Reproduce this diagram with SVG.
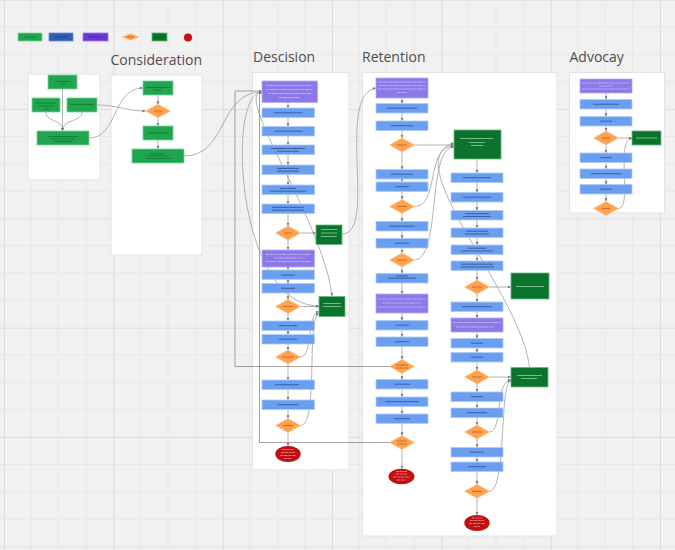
<svg xmlns="http://www.w3.org/2000/svg" width="675" height="550" viewBox="0 0 675 550">
<defs>
<pattern id="grid" patternUnits="userSpaceOnUse" x="4" y="-0.3" width="109.33" height="109.33">
<path d="M27.33 0V109.33M54.67 0V109.33M82 0V109.33M0 27.33H109.33M0 54.67H109.33M0 82H109.33" stroke="#e7e7e7" stroke-width="1" fill="none"/>
<path d="M0.5 0V109.33M0 0.5H109.33" stroke="#dcdcdc" stroke-width="1" fill="none"/>
</pattern>
<marker id="a" markerUnits="userSpaceOnUse" markerWidth="4" markerHeight="4" refX="3.2" refY="1.75" orient="auto">
<path d="M0,0.3 L3.2,1.75 L0,3.2 z" fill="#777"/>
</marker>
<style>
.panel{fill:#fff;stroke:#e3e3e3;stroke-width:1}
.title{font-family:"Open Sans","Noto Sans",sans-serif;font-size:14px;fill:#4d4d4d}
.g{fill:#1fa64f;stroke:#7dd39a;stroke-width:0.8}
.b{fill:#6a9ef0;stroke:#aecaf7;stroke-width:0.8}
.p{fill:#8b79e9;stroke:#b6aaf3;stroke-width:0.8}
.d{fill:#ffa24e;stroke:#ffc48f;stroke-width:0.6}
.k{fill:#0b732b;stroke:#6db685;stroke-width:0.8}
.r{fill:#c20f0f}
.tb{stroke:#3b5699;stroke-width:0.9;fill:none}
.tg{stroke:#147b38;stroke-width:0.9;fill:none}
.tw{stroke:#d9d2fb;stroke-width:0.6;stroke-dasharray:3 0.6 5 0.6 2 0.6;fill:none}
.tk{stroke:#7ec594;stroke-width:0.9;fill:none}
.td{stroke:#b8692a;stroke-width:0.9;fill:none}
.tr{stroke:#f0baba;stroke-width:0.6;stroke-dasharray:3 0.6 4 0.6;fill:none}
.c{fill:none;stroke:#a0a0a0;stroke-width:0.8;marker-end:url(#a)}
</style>
</defs>

<rect width="675" height="550" fill="#f1f1f1"/>
<rect width="675" height="550" fill="url(#grid)"/>

<g id="legend">
<rect class="g" x="18" y="33" width="24" height="8"/><path class="tg" d="M24 37H36"/>
<rect x="49" y="33" width="24" height="8" fill="#2f5cb5" stroke="#6f8fd0" stroke-width="0.8"/><path d="M55 37H67" stroke="#23468c" stroke-width="1"/>
<rect x="83" y="33" width="25" height="8" fill="#6a35d9" stroke="#9c7ae6" stroke-width="0.8"/><path d="M89 37H102" stroke="#4f26a8" stroke-width="1"/>
<polygon class="d" points="122,37 130.5,33.8 139,37 130.5,40.2"/><path class="td" d="M127 37H134"/>
<rect class="k" x="152" y="33" width="15" height="8"/><path d="M155 37H164" stroke="#075a21" stroke-width="1"/>
<circle class="r" cx="188" cy="37.5" r="4"/>
</g>

<g id="panels">
<rect class="panel" x="28" y="74" width="72" height="106"/>
<rect class="panel" x="111" y="75" width="91" height="180"/>
<rect class="panel" x="252.5" y="72.5" width="96.5" height="397.5"/>
<rect class="panel" x="362.5" y="72.5" width="194.5" height="463.5"/>
<rect class="panel" x="569.5" y="72.5" width="95" height="140.5"/>
<text class="title" x="110.5" y="65">Consideration</text>
<text class="title" x="253" y="61.7">Descision</text>
<text class="title" x="362" y="62">Retention</text>
<text class="title" x="569.5" y="62">Advocay</text>
</g>

<g id="connectors">
<path class="c" d="M62.5 89V131"/>
<path class="c" d="M46 112C46 123 62.5 118 62.5 131"/>
<path class="c" d="M82 112C82 123 62.5 118 62.5 131"/>
<path class="c" d="M89 138C118 138 112 88 143 88"/>
<path class="c" d="M97 105C118 105 125 111 145.5 111"/>
<path class="c" d="M158 95V104.5"/>
<path class="c" d="M158 117.5V126"/>
<path class="c" d="M158 140V149"/>
<path class="c" d="M184 156C228 156 218 92 262 92"/>
<path class="c" d="M288 102V108"/>
<path class="c" d="M288 117.5V126.5"/>
<path class="c" d="M288 136V145"/>
<path class="c" d="M288 154.5V165"/>
<path class="c" d="M288 174.5V185"/>
<path class="c" d="M288 194.5V204"/>
<path class="c" d="M288 213.5V226"/>
<path class="c" d="M288 240V250"/>
<path class="c" d="M288 267V270"/>
<path class="c" d="M288 279.5V283.5"/>
<path class="c" d="M288 293V299.5"/>
<path class="c" d="M288 313.5V321"/>
<path class="c" d="M288 330.5V334.5"/>
<path class="c" d="M288 344V350"/>
<path class="c" d="M288 364V380"/>
<path class="c" d="M288 389.5V400"/>
<path class="c" d="M288 409.5V418.5"/>
<path class="c" d="M288 432.5V446"/>
<path class="c" d="M300.5 233H316"/>
<path class="c" d="M300.5 306.5H319"/>
<path class="c" d="M300.5 357C313 357 307 312 319 312"/>
<path class="c" d="M300.5 425.5C319 425.5 306 315 319 314"/>
<path class="c" d="M262 92C226 92 236 306 319 306"/>
<path class="c" d="M262 92C232 92 325 225 332 296"/>
<path class="c" d="M389.5 366.5H235V91H262" style="stroke:#8c8c8c"/>
<path class="c" d="M389.5 442.5H259.5V93H262" style="stroke:#8c8c8c"/>
<path class="c" d="M342 234C378 234 335 95 376 88"/>
<path class="c" d="M402 98V103.5"/>
<path class="c" d="M402 113V121"/>
<path class="c" d="M402 130.5V138"/>
<path class="c" d="M402 152V169.5"/>
<path class="c" d="M402 179V182"/>
<path class="c" d="M402 191.5V199.5"/>
<path class="c" d="M402 213.5V221.5"/>
<path class="c" d="M402 231V238.5"/>
<path class="c" d="M402 248V253"/>
<path class="c" d="M402 267V273.5"/>
<path class="c" d="M402 283V294"/>
<path class="c" d="M402 313V320.5"/>
<path class="c" d="M402 330V337"/>
<path class="c" d="M402 346.5V359.5"/>
<path class="c" d="M402 373.5V379.5"/>
<path class="c" d="M402 389V397"/>
<path class="c" d="M402 406.5V414"/>
<path class="c" d="M402 423.5V435.5"/>
<path class="c" d="M402 449.5V468.7"/>
<path class="c" d="M414.5 145H454"/>
<path class="c" d="M414.5 206.5C440 206.5 425 146 454 146"/>
<path class="c" d="M414.5 260C442 258 426 148 454 147"/>
<path class="c" d="M529.5 367C520 290 395 160 454 143"/>
<path class="c" d="M477 159V173"/>
<path class="c" d="M477 182.5V192.5"/>
<path class="c" d="M477 202V210.5"/>
<path class="c" d="M477 220V228"/>
<path class="c" d="M477 237.5V245"/>
<path class="c" d="M477 254.5V261"/>
<path class="c" d="M477 270.5V280"/>
<path class="c" d="M477 294V302"/>
<path class="c" d="M477 311.5V318"/>
<path class="c" d="M477 332V338.5"/>
<path class="c" d="M477 348V352.5"/>
<path class="c" d="M477 362V370"/>
<path class="c" d="M477 384V392"/>
<path class="c" d="M477 401.5V408"/>
<path class="c" d="M477 417.5V425"/>
<path class="c" d="M477 439V447.5"/>
<path class="c" d="M477 457V462"/>
<path class="c" d="M477 471.5V484.3"/>
<path class="c" d="M477 498.3V515"/>
<path class="c" d="M489.5 287H511"/>
<path class="c" d="M489.5 377H511"/>
<path class="c" d="M489.5 432C503 432 495 380 511 380"/>
<path class="c" d="M489.5 491.3C507 491 499 381 511 381"/>
<path class="c" d="M606 93V99.5"/>
<path class="c" d="M606 109V116.5"/>
<path class="c" d="M606 126V131"/>
<path class="c" d="M606 145V153"/>
<path class="c" d="M606 162.5V169"/>
<path class="c" d="M606 178.5V184.5"/>
<path class="c" d="M606 194V201.5"/>
<path class="c" d="M618.5 138H632"/>
<path class="c" d="M618.5 208.5C633 208 615 138.5 632 138.5"/>
</g>

<g id="w0"><rect class="g" x="48" y="75" width="29" height="14"/><path class="tg" d="M55 81.5H70M59 84H66"/></g>
<g id="w1"><rect class="g" x="32" y="98" width="28" height="14"/><path class="tg" d="M36 103H56M38 106H54M43 109H49"/></g>
<g id="w2"><rect class="g" x="67" y="98" width="30" height="14"/><path class="tg" d="M70 104.5H94"/></g>
<g id="w3"><rect class="g" x="37" y="131" width="52" height="14"/><path class="tg" d="M48 136.5H78M51 139H75M54 141.5H72"/></g>

<g id="c0"><rect class="g" x="143" y="81" width="30" height="14"/><path class="tg" d="M146 87.5H171M154 90H162"/></g>
<g id="c1"><polygon class="d" points="145.5,111 158,104.3 170.5,111 158,117.7"/><path class="td" d="M154 111H162"/></g>
<g id="c2"><rect class="g" x="143" y="126" width="30" height="14"/><path class="tg" d="M147 133H169"/></g>
<g id="c3"><rect class="g" x="132" y="149" width="52" height="14"/><path class="tg" d="M149 154H164M145 156H168M145 158.5H171"/></g>

<g id="d0"><rect class="p" x="262" y="81" width="55.5" height="21.5"/><path class="tw" d="M266 85.5H313M266 89.5H313M268 93.5H311M279 97.5H300"/></g>
<g id="d1"><rect class="b" x="262" y="108" width="52.5" height="9.5"/><path class="tb" d="M274 112.8H302.5"/></g>
<g id="d2"><rect class="b" x="262" y="126.5" width="52.5" height="9.5"/><path class="tb" d="M274 131.2H302.5"/></g>
<g id="d3"><rect class="b" x="262" y="145" width="52.5" height="9.5"/><path class="tb" d="M271 148.5H305M277 151.3H299"/></g>
<g id="d4"><rect class="b" x="262" y="165" width="52.5" height="9.5"/><path class="tb" d="M277 168.4H299M277 171.2H299"/></g>
<g id="d5"><rect class="b" x="262" y="185" width="52.5" height="9.5"/><path class="tb" d="M280 188.4H296M270 191.2H306"/></g>
<g id="d6"><rect class="b" x="262" y="204" width="52.5" height="9.5"/><path class="tb" d="M272 207.4H304M272 210.2H304"/></g>
<g id="d7"><polygon class="d" points="275.5,233 288,226 300.5,233 288,240"/><path class="td" d="M284 233H292"/></g>
<g id="d8"><rect class="k" x="316" y="225" width="26" height="19.5"/><path class="tk" d="M321 229.5H337M321 233H337M321 236.5H337"/></g>
<g id="d9"><rect class="p" x="262" y="250" width="52.5" height="17"/><path class="tw" d="M266 254.5H311M274 258H303M266 261.5H311"/></g>
<g id="d10"><rect class="b" x="262" y="270" width="52.5" height="9.5"/><path class="tb" d="M281 275H295"/></g>
<g id="d11"><rect class="b" x="262" y="283.5" width="52.5" height="9.5"/><path class="tb" d="M281 288.3H295"/></g>
<g id="d12"><polygon class="d" points="275.5,306.5 288,299.5 300.5,306.5 288,313.5"/><path class="td" d="M283 306.5H293"/></g>
<g id="d13"><rect class="k" x="319" y="296.5" width="26" height="20"/><path class="tk" d="M323 303.5H341M323 306.5H341"/></g>
<g id="d14"><rect class="b" x="262" y="321" width="52.5" height="9.5"/><path class="tb" d="M279 325.7H297"/></g>
<g id="d15"><rect class="b" x="262" y="334.5" width="52.5" height="9.5"/><path class="tb" d="M279 339.2H297"/></g>
<g id="d16"><polygon class="d" points="275.5,357 288,350 300.5,357 288,364"/><path class="td" d="M282 357H294"/></g>
<g id="d17"><rect class="b" x="262" y="380" width="52.5" height="9.5"/><path class="tb" d="M275 384.7H299"/></g>
<g id="d18"><rect class="b" x="262" y="400" width="52.5" height="9.5"/><path class="tb" d="M278 404.7H298"/></g>
<g id="d19"><polygon class="d" points="275.5,425.5 288,418.5 300.5,425.5 288,432.5"/><path class="td" d="M283 425.5H293"/></g>
<g id="d20"><ellipse class="r" cx="288" cy="454" rx="12.7" ry="8"/><path class="tr" d="M282 449.5H294M281 452.5H295M280 455.5H296M284 458.5H292"/></g>

<g id="r0"><rect class="p" x="376" y="78" width="52" height="20"/><path class="tw" d="M378 82H426M379 85.5H425M378 89H426M397 92.5H407"/></g>
<g id="r1"><rect class="b" x="376" y="103.5" width="52" height="9.5"/><path class="tb" d="M387 108.2H417"/></g>
<g id="r2"><rect class="b" x="376" y="121" width="52" height="9.5"/><path class="tb" d="M391 125.7H413"/></g>
<g id="r3"><polygon class="d" points="389.5,145 402,138 414.5,145 402,152"/><path class="td" d="M397 145H407"/></g>
<g id="r4"><rect class="b" x="376" y="169.5" width="52" height="9.5"/><path class="tb" d="M391 174.2H413"/></g>
<g id="r5"><rect class="b" x="376" y="182" width="52" height="9.5"/><path class="tb" d="M395 186.7H409"/></g>
<g id="r6"><polygon class="d" points="389.5,206.5 402,199.5 414.5,206.5 402,213.5"/><path class="td" d="M397 206.5H407"/></g>
<g id="r7"><rect class="b" x="376" y="221.5" width="52" height="9.5"/><path class="tb" d="M389 226.2H415"/></g>
<g id="r8"><rect class="b" x="376" y="238.5" width="52" height="9.5"/><path class="tb" d="M395 243.2H409"/></g>
<g id="r9"><polygon class="d" points="389.5,260 402,253 414.5,260 402,267"/><path class="td" d="M397 260H407"/></g>
<g id="r10"><rect class="b" x="376" y="273.5" width="52" height="9.5"/><path class="tb" d="M388 278.2H416M396 276H408"/></g>
<g id="r11"><rect class="p" x="376" y="294" width="52" height="19"/><path class="tw" d="M378 299H426M382 303H422M378 307H426"/></g>
<g id="r12"><rect class="b" x="376" y="320.5" width="52" height="9.5"/><path class="tb" d="M395 325.2H409"/></g>
<g id="r13"><rect class="b" x="376" y="337" width="52" height="9.5"/><path class="tb" d="M395 341.7H409"/></g>
<g id="r14"><polygon class="d" points="389.5,366.5 402,359.5 414.5,366.5 402,373.5"/><path class="td" d="M396 365H408M396 368H408"/></g>
<g id="r15"><rect class="b" x="376" y="379.5" width="52" height="9.5"/><path class="tb" d="M394 384.2H410"/></g>
<g id="r16"><rect class="b" x="376" y="397" width="52" height="9.5"/><path class="tb" d="M385 401.7H419"/></g>
<g id="r17"><rect class="b" x="376" y="414" width="52" height="9.5"/><path class="tb" d="M394 418.7H410"/></g>
<g id="r18"><polygon class="d" points="389.5,442.5 402,435.5 414.5,442.5 402,449.5"/><path class="td" d="M397 441H407M397 444H407"/></g>
<g id="r19"><ellipse class="r" cx="401.5" cy="476.5" rx="13" ry="7.8"/><path class="tr" d="M396 471.5H407M396 474H407M393 477H410M397 480H406"/></g>

<g id="s0"><rect class="k" x="454" y="130" width="47" height="29"/><path class="tk" d="M460 138.5H493M469 142.5H485M471 145.5H483"/></g>
<g id="s1"><rect class="b" x="451" y="173" width="52" height="9.5"/><path class="tb" d="M463 177.7H491"/></g>
<g id="s2"><rect class="b" x="451" y="192.5" width="52" height="9.5"/><path class="tb" d="M463 197.2H491"/></g>
<g id="s3"><rect class="b" x="451" y="210.5" width="52" height="9.5"/><path class="tb" d="M465 213.7H489M463 216.5H491"/></g>
<g id="s4"><rect class="b" x="451" y="228" width="52" height="9.5"/><path class="tb" d="M466 231.2H488M465 234H489"/></g>
<g id="s5"><rect class="b" x="451" y="245" width="52" height="9.5"/><path class="tb" d="M468 248.2H486M461 251H493"/></g>
<g id="s6"><rect class="b" x="451" y="261" width="52" height="9.5"/><path class="tb" d="M461 264.2H493M460 267H494"/></g>
<g id="s7"><polygon class="d" points="464.5,287 477,280 489.5,287 477,294"/><path class="td" d="M472 287H482"/></g>
<g id="s8"><rect class="k" x="511" y="273" width="38" height="26"/><path class="tk" d="M516 286.5H544"/></g>
<g id="s9"><rect class="b" x="451" y="302" width="52" height="9.5"/><path class="tb" d="M462 306.7H492"/></g>
<g id="s10"><rect class="p" x="451" y="318" width="52" height="14"/><path class="tw" d="M453 322.5H501M456 327H494"/></g>
<g id="s11"><rect class="b" x="451" y="338.5" width="52" height="9.5"/><path class="tb" d="M471 343.2H483"/></g>
<g id="s12"><rect class="b" x="451" y="352.5" width="52" height="9.5"/><path class="tb" d="M471 357.2H483"/></g>
<g id="s13"><polygon class="d" points="464.5,377 477,370 489.5,377 477,384"/><path class="td" d="M472 377H482"/></g>
<g id="s14"><rect class="k" x="511" y="367.5" width="37" height="19.5"/><path class="tk" d="M517 375.5H542M521 378.5H537"/></g>
<g id="s15"><rect class="b" x="451" y="392" width="52" height="9.5"/><path class="tb" d="M471 396.7H483"/></g>
<g id="s16"><rect class="b" x="451" y="408" width="52" height="9.5"/><path class="tb" d="M467 412.7H487"/></g>
<g id="s17"><polygon class="d" points="464.5,432 477,425 489.5,432 477,439"/><path class="td" d="M472 432H482"/></g>
<g id="s18"><rect class="b" x="451" y="447.5" width="52" height="9.5"/><path class="tb" d="M470 452.2H484"/></g>
<g id="s19"><rect class="b" x="451" y="462" width="52" height="9.5"/><path class="tb" d="M468 466.7H486"/></g>
<g id="s20"><polygon class="d" points="464.5,491.3 477,484.3 489.5,491.3 477,498.3"/><path class="td" d="M472 491.3H482"/></g>
<g id="s21"><ellipse class="r" cx="477" cy="523" rx="12.7" ry="8"/><path class="tr" d="M472 518H482M470 520.5H484M469 523.5H485M474 526.5H480"/></g>

<g id="a0"><rect class="p" x="580" y="79" width="52" height="14"/><path class="tw" d="M582 83H630M599 86H613M582 89H630"/></g>
<g id="a1"><rect class="b" x="580" y="99.5" width="52" height="9.5"/><path class="tb" d="M593 104.2H619"/></g>
<g id="a2"><rect class="b" x="580" y="116.5" width="52" height="9.5"/><path class="tb" d="M600 121.2H612"/></g>
<g id="a3"><polygon class="d" points="593.5,138 606,131 618.5,138 606,145"/><path class="td" d="M602 138H610"/></g>
<g id="a4"><rect class="k" x="632" y="131" width="29" height="14"/><path class="tk" d="M636 138H657"/></g>
<g id="a5"><rect class="b" x="580" y="153" width="52" height="9.5"/><path class="tb" d="M600 157.7H612"/></g>
<g id="a6"><rect class="b" x="580" y="169" width="52" height="9.5"/><path class="tb" d="M591 173.7H621"/></g>
<g id="a7"><rect class="b" x="580" y="184.5" width="52" height="9.5"/><path class="tb" d="M600 189.2H612"/></g>
<g id="a8"><polygon class="d" points="593.5,208.5 606,201.5 618.5,208.5 606,215.5"/><path class="td" d="M602 208.5H610"/></g>
</svg>
